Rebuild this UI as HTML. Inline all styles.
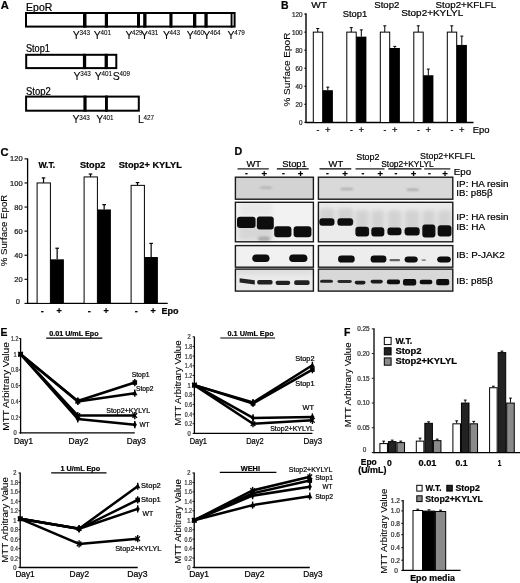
<!DOCTYPE html>
<html><head><meta charset="utf-8"><style>
html,body{margin:0;padding:0;background:#fff;}
svg{display:block;font-family:"Liberation Sans", sans-serif;filter:grayscale(1) blur(0.3px);}
text{stroke:#000;stroke-width:0.22px;paint-order:stroke;}
</style></head><body>
<svg width="520" height="583" viewBox="0 0 520 583">
<defs>
<filter id="bl0" x="-30%" y="-80%" width="160%" height="260%"><feGaussianBlur stdDeviation="0.6"/></filter>
<filter id="bl1" x="-30%" y="-80%" width="160%" height="260%"><feGaussianBlur stdDeviation="0.9"/></filter>
<filter id="bl2" x="-30%" y="-80%" width="160%" height="260%"><feGaussianBlur stdDeviation="2"/></filter>
</defs>
<rect width="520" height="583" fill="#fff"/>
<text x="0.80" y="9.40" font-size="11.2" font-weight="bold" >A</text>
<text x="26.10" y="10.60" font-size="10.3" textLength="26.20" lengthAdjust="spacingAndGlyphs" >EpoR</text>
<rect x="26.00" y="13.00" width="208.60" height="13.60" fill="#fff" stroke="#000" stroke-width="2" />
<rect x="83.00" y="12.00" width="3.50" height="15.60" fill="#000" />
<rect x="104.80" y="12.00" width="3.20" height="15.60" fill="#000" />
<rect x="137.00" y="12.00" width="3.00" height="15.60" fill="#000" />
<rect x="143.20" y="12.00" width="3.30" height="15.60" fill="#000" />
<rect x="169.40" y="12.00" width="3.10" height="15.60" fill="#000" />
<rect x="193.00" y="12.00" width="3.30" height="15.60" fill="#000" />
<rect x="204.40" y="12.00" width="3.30" height="15.60" fill="#000" />
<rect x="230.60" y="12.00" width="1.90" height="15.60" fill="#000" />
<text x="72.70" y="38.50" font-size="10.5" style="stroke-width:0.1px">Y</text>
<text x="79.40" y="34.60" font-size="6.3" style="stroke-width:0.08px">343</text>
<text x="93.80" y="38.50" font-size="10.5" style="stroke-width:0.1px">Y</text>
<text x="100.50" y="34.60" font-size="6.3" style="stroke-width:0.08px">401</text>
<text x="125.40" y="38.50" font-size="10.5" style="stroke-width:0.1px">Y</text>
<text x="132.10" y="34.60" font-size="6.3" style="stroke-width:0.08px">429</text>
<text x="141.00" y="38.50" font-size="10.5" style="stroke-width:0.1px">Y</text>
<text x="147.70" y="34.60" font-size="6.3" style="stroke-width:0.08px">431</text>
<text x="162.90" y="38.50" font-size="10.5" style="stroke-width:0.1px">Y</text>
<text x="169.60" y="34.60" font-size="6.3" style="stroke-width:0.08px">443</text>
<text x="186.80" y="38.50" font-size="10.5" style="stroke-width:0.1px">Y</text>
<text x="193.50" y="34.60" font-size="6.3" style="stroke-width:0.08px">460</text>
<text x="203.30" y="38.50" font-size="10.5" style="stroke-width:0.1px">Y</text>
<text x="210.00" y="34.60" font-size="6.3" style="stroke-width:0.08px">464</text>
<text x="227.50" y="38.50" font-size="10.5" style="stroke-width:0.1px">Y</text>
<text x="234.20" y="34.60" font-size="6.3" style="stroke-width:0.08px">479</text>
<text x="25.90" y="51.90" font-size="10.3" textLength="24.00" lengthAdjust="spacingAndGlyphs" >Stop1</text>
<rect x="26.20" y="54.80" width="90.10" height="13.30" fill="#fff" stroke="#000" stroke-width="2" />
<rect x="82.90" y="53.80" width="3.30" height="15.30" fill="#000" />
<rect x="104.60" y="53.80" width="3.30" height="15.30" fill="#000" />
<text x="73.50" y="80.30" font-size="10.5" style="stroke-width:0.1px">Y</text>
<text x="80.20" y="76.40" font-size="6.3" style="stroke-width:0.08px">343</text>
<text x="94.80" y="80.30" font-size="10.5" style="stroke-width:0.1px">Y</text>
<text x="101.50" y="76.40" font-size="6.3" style="stroke-width:0.08px">401</text>
<text x="112.70" y="80.30" font-size="10.5" style="stroke-width:0.1px">S</text>
<text x="119.40" y="76.40" font-size="6.3" style="stroke-width:0.08px">409</text>
<text x="26.00" y="94.60" font-size="10.3" textLength="24.80" lengthAdjust="spacingAndGlyphs" >Stop2</text>
<rect x="26.10" y="96.60" width="112.70" height="14.10" fill="#fff" stroke="#000" stroke-width="2" />
<rect x="83.40" y="95.60" width="3.20" height="16.10" fill="#000" />
<rect x="105.00" y="95.60" width="2.90" height="16.10" fill="#000" />
<text x="72.50" y="123.40" font-size="10.5" style="stroke-width:0.1px">Y</text>
<text x="79.20" y="119.50" font-size="6.3" style="stroke-width:0.08px">343</text>
<text x="96.30" y="123.40" font-size="10.5" style="stroke-width:0.1px">Y</text>
<text x="103.00" y="119.50" font-size="6.3" style="stroke-width:0.08px">401</text>
<text x="137.90" y="123.40" font-size="10.5" style="stroke-width:0.1px">L</text>
<text x="143.45" y="119.50" font-size="6.3" style="stroke-width:0.08px">427</text>
<text x="281.10" y="8.60" font-size="11.4" font-weight="bold" textLength="7.60" lengthAdjust="spacingAndGlyphs" >B</text>
<line x1="306.00" y1="13.30" x2="306.00" y2="123.00" stroke="#000" stroke-width="1.4" />
<line x1="305.40" y1="122.50" x2="473.50" y2="122.50" stroke="#000" stroke-width="1.3" />
<line x1="304.30" y1="122.30" x2="306.00" y2="122.30" stroke="#000" stroke-width="1" />
<text x="302.60" y="125.10" font-size="6.3" text-anchor="end" fill="#333" stroke="#333" >0</text>
<line x1="304.30" y1="104.27" x2="306.00" y2="104.27" stroke="#000" stroke-width="1" />
<text x="302.60" y="107.07" font-size="6.3" text-anchor="end" fill="#333" stroke="#333" >20</text>
<line x1="304.30" y1="86.23" x2="306.00" y2="86.23" stroke="#000" stroke-width="1" />
<text x="302.60" y="89.03" font-size="6.3" text-anchor="end" fill="#333" stroke="#333" >40</text>
<line x1="304.30" y1="68.20" x2="306.00" y2="68.20" stroke="#000" stroke-width="1" />
<text x="302.60" y="71.00" font-size="6.3" text-anchor="end" fill="#333" stroke="#333" >60</text>
<line x1="304.30" y1="50.16" x2="306.00" y2="50.16" stroke="#000" stroke-width="1" />
<text x="302.60" y="52.96" font-size="6.3" text-anchor="end" fill="#333" stroke="#333" >80</text>
<line x1="304.30" y1="32.13" x2="306.00" y2="32.13" stroke="#000" stroke-width="1" />
<text x="302.60" y="34.93" font-size="6.3" text-anchor="end" fill="#333" stroke="#333" >100</text>
<line x1="304.30" y1="14.10" x2="306.00" y2="14.10" stroke="#000" stroke-width="1" />
<text x="302.60" y="16.90" font-size="6.3" text-anchor="end" fill="#333" stroke="#333" >120</text>
<text x="290.20" y="69.60" font-size="9.4" text-anchor="middle" textLength="74.00" lengthAdjust="spacingAndGlyphs" transform="rotate(-90 290.20 69.60)" style="stroke-width:0.1px">% Surface EpoR</text>
<line x1="317.75" y1="32.13" x2="317.75" y2="28.52" stroke="#000" stroke-width="1" />
<line x1="316.25" y1="28.52" x2="319.25" y2="28.52" stroke="#000" stroke-width="1" />
<line x1="327.80" y1="90.20" x2="327.80" y2="87.13" stroke="#000" stroke-width="1" />
<line x1="326.30" y1="87.13" x2="329.30" y2="87.13" stroke="#000" stroke-width="1" />
<rect x="313.30" y="32.13" width="9.40" height="90.37" fill="#fff" stroke="#000" stroke-width="1" />
<rect x="322.70" y="90.20" width="10.20" height="32.30" fill="#000" />
<text x="318.00" y="132.50" font-size="8.5" text-anchor="middle" >-</text>
<text x="327.80" y="133.30" font-size="9.5" text-anchor="middle" >+</text>
<line x1="351.25" y1="32.13" x2="351.25" y2="27.62" stroke="#000" stroke-width="1" />
<line x1="349.75" y1="27.62" x2="352.75" y2="27.62" stroke="#000" stroke-width="1" />
<line x1="361.30" y1="36.64" x2="361.30" y2="29.88" stroke="#000" stroke-width="1" />
<line x1="359.80" y1="29.88" x2="362.80" y2="29.88" stroke="#000" stroke-width="1" />
<rect x="346.80" y="32.13" width="9.40" height="90.37" fill="#fff" stroke="#000" stroke-width="1" />
<rect x="356.20" y="36.64" width="10.20" height="85.86" fill="#000" />
<text x="351.50" y="132.50" font-size="8.5" text-anchor="middle" >-</text>
<text x="361.30" y="133.30" font-size="9.5" text-anchor="middle" >+</text>
<line x1="384.75" y1="32.13" x2="384.75" y2="25.82" stroke="#000" stroke-width="1" />
<line x1="383.25" y1="25.82" x2="386.25" y2="25.82" stroke="#000" stroke-width="1" />
<line x1="394.80" y1="48.00" x2="394.80" y2="46.38" stroke="#000" stroke-width="1" />
<line x1="393.30" y1="46.38" x2="396.30" y2="46.38" stroke="#000" stroke-width="1" />
<rect x="380.30" y="32.13" width="9.40" height="90.37" fill="#fff" stroke="#000" stroke-width="1" />
<rect x="389.70" y="48.00" width="10.20" height="74.50" fill="#000" />
<text x="385.00" y="132.50" font-size="8.5" text-anchor="middle" >-</text>
<text x="394.80" y="133.30" font-size="9.5" text-anchor="middle" >+</text>
<line x1="418.25" y1="32.13" x2="418.25" y2="25.82" stroke="#000" stroke-width="1" />
<line x1="416.75" y1="25.82" x2="419.75" y2="25.82" stroke="#000" stroke-width="1" />
<line x1="428.30" y1="75.23" x2="428.30" y2="69.10" stroke="#000" stroke-width="1" />
<line x1="426.80" y1="69.10" x2="429.80" y2="69.10" stroke="#000" stroke-width="1" />
<rect x="413.80" y="32.13" width="9.40" height="90.37" fill="#fff" stroke="#000" stroke-width="1" />
<rect x="423.20" y="75.23" width="10.20" height="47.27" fill="#000" />
<text x="418.50" y="132.50" font-size="8.5" text-anchor="middle" >-</text>
<text x="428.30" y="133.30" font-size="9.5" text-anchor="middle" >+</text>
<line x1="451.75" y1="32.13" x2="451.75" y2="25.82" stroke="#000" stroke-width="1" />
<line x1="450.25" y1="25.82" x2="453.25" y2="25.82" stroke="#000" stroke-width="1" />
<line x1="461.80" y1="44.93" x2="461.80" y2="36.10" stroke="#000" stroke-width="1" />
<line x1="460.30" y1="36.10" x2="463.30" y2="36.10" stroke="#000" stroke-width="1" />
<rect x="447.30" y="32.13" width="9.40" height="90.37" fill="#fff" stroke="#000" stroke-width="1" />
<rect x="456.70" y="44.93" width="10.20" height="77.57" fill="#000" />
<text x="452.00" y="132.50" font-size="8.5" text-anchor="middle" >-</text>
<text x="461.80" y="133.30" font-size="9.5" text-anchor="middle" >+</text>
<text x="472.80" y="133.00" font-size="9.6" textLength="16.80" lengthAdjust="spacingAndGlyphs" >Epo</text>
<text x="311.20" y="7.70" font-size="9.5" textLength="15.70" lengthAdjust="spacingAndGlyphs" >WT</text>
<text x="342.70" y="16.60" font-size="9.5" textLength="24.50" lengthAdjust="spacingAndGlyphs" >Stop1</text>
<text x="374.30" y="8.00" font-size="9.5" textLength="25.00" lengthAdjust="spacingAndGlyphs" >Stop2</text>
<text x="401.20" y="15.50" font-size="9.5" textLength="62.00" lengthAdjust="spacingAndGlyphs" >Stop2+KYLYL</text>
<text x="435.60" y="7.80" font-size="9.5" textLength="60.50" lengthAdjust="spacingAndGlyphs" >Stop2+KFLFL</text>
<text x="0.50" y="155.50" font-size="11.2" font-weight="bold" >C</text>
<line x1="27.60" y1="158.40" x2="27.60" y2="304.00" stroke="#000" stroke-width="1.3" />
<line x1="27.00" y1="303.40" x2="167.70" y2="303.40" stroke="#000" stroke-width="1.3" />
<line x1="24.50" y1="303.40" x2="27.60" y2="303.40" stroke="#000" stroke-width="1.1" />
<text x="20.00" y="303.70" font-size="7.5" text-anchor="end" fill="#222" stroke="#222" >0</text>
<line x1="24.50" y1="279.31" x2="27.60" y2="279.31" stroke="#000" stroke-width="1.1" />
<text x="22.60" y="281.91" font-size="7.5" text-anchor="end" fill="#222" stroke="#222" >20</text>
<line x1="24.50" y1="255.22" x2="27.60" y2="255.22" stroke="#000" stroke-width="1.1" />
<text x="22.60" y="257.82" font-size="7.5" text-anchor="end" fill="#222" stroke="#222" >40</text>
<line x1="24.50" y1="231.13" x2="27.60" y2="231.13" stroke="#000" stroke-width="1.1" />
<text x="22.60" y="233.73" font-size="7.5" text-anchor="end" fill="#222" stroke="#222" >60</text>
<line x1="24.50" y1="207.04" x2="27.60" y2="207.04" stroke="#000" stroke-width="1.1" />
<text x="22.60" y="209.64" font-size="7.5" text-anchor="end" fill="#222" stroke="#222" >80</text>
<line x1="24.50" y1="182.95" x2="27.60" y2="182.95" stroke="#000" stroke-width="1.1" />
<text x="22.60" y="185.55" font-size="7.5" text-anchor="end" fill="#222" stroke="#222" >100</text>
<line x1="24.50" y1="158.86" x2="27.60" y2="158.86" stroke="#000" stroke-width="1.1" />
<text x="22.60" y="161.46" font-size="7.5" text-anchor="end" fill="#222" stroke="#222" >120</text>
<text x="7.40" y="230.50" font-size="9.9" text-anchor="middle" textLength="71.50" lengthAdjust="spacingAndGlyphs" transform="rotate(-90 7.40 230.50)" style="stroke-width:0.1px">% Surface EpoR</text>
<line x1="43.50" y1="182.95" x2="43.50" y2="177.89" stroke="#000" stroke-width="1.2" />
<line x1="41.70" y1="177.89" x2="45.30" y2="177.89" stroke="#000" stroke-width="1.2" />
<line x1="57.15" y1="259.32" x2="57.15" y2="248.23" stroke="#000" stroke-width="1.2" />
<line x1="55.35" y1="248.23" x2="58.95" y2="248.23" stroke="#000" stroke-width="1.2" />
<rect x="37.10" y="182.95" width="13.30" height="120.45" fill="#fff" stroke="#000" stroke-width="1" />
<rect x="50.40" y="259.32" width="13.50" height="44.08" fill="#000" />
<text x="42.30" y="313.50" font-size="9" text-anchor="middle" font-weight="bold" >-</text>
<text x="59.10" y="314.30" font-size="9" text-anchor="middle" font-weight="bold" >+</text>
<line x1="90.50" y1="176.93" x2="90.50" y2="174.04" stroke="#000" stroke-width="1.2" />
<line x1="88.70" y1="174.04" x2="92.30" y2="174.04" stroke="#000" stroke-width="1.2" />
<line x1="104.15" y1="209.45" x2="104.15" y2="204.63" stroke="#000" stroke-width="1.2" />
<line x1="102.35" y1="204.63" x2="105.95" y2="204.63" stroke="#000" stroke-width="1.2" />
<rect x="84.10" y="176.93" width="13.30" height="126.47" fill="#fff" stroke="#000" stroke-width="1" />
<rect x="97.40" y="209.45" width="13.50" height="93.95" fill="#000" />
<text x="89.30" y="313.50" font-size="9" text-anchor="middle" font-weight="bold" >-</text>
<text x="106.10" y="314.30" font-size="9" text-anchor="middle" font-weight="bold" >+</text>
<line x1="137.50" y1="185.36" x2="137.50" y2="182.59" stroke="#000" stroke-width="1.2" />
<line x1="135.70" y1="182.59" x2="139.30" y2="182.59" stroke="#000" stroke-width="1.2" />
<line x1="151.15" y1="257.03" x2="151.15" y2="243.42" stroke="#000" stroke-width="1.2" />
<line x1="149.35" y1="243.42" x2="152.95" y2="243.42" stroke="#000" stroke-width="1.2" />
<rect x="131.10" y="185.36" width="13.30" height="118.04" fill="#fff" stroke="#000" stroke-width="1" />
<rect x="144.40" y="257.03" width="13.50" height="46.37" fill="#000" />
<text x="136.30" y="313.50" font-size="9" text-anchor="middle" font-weight="bold" >-</text>
<text x="153.10" y="314.30" font-size="9" text-anchor="middle" font-weight="bold" >+</text>
<text x="161.50" y="313.50" font-size="9" font-weight="bold" >Epo</text>
<text x="38.40" y="168.00" font-size="8.6" font-weight="bold" textLength="16.80" lengthAdjust="spacingAndGlyphs" >W.T.</text>
<text x="79.90" y="168.00" font-size="8.6" font-weight="bold" textLength="25.50" lengthAdjust="spacingAndGlyphs" >Stop2</text>
<text x="118.70" y="168.00" font-size="8.6" font-weight="bold" textLength="63.20" lengthAdjust="spacingAndGlyphs" >Stop2+ KYLYL</text>
<text x="234.50" y="155.40" font-size="10.7" font-weight="bold" >D</text>
<text x="246.50" y="166.90" font-size="9.4" >WT</text>
<line x1="237.50" y1="168.90" x2="268.80" y2="168.90" stroke="#000" stroke-width="1.1" />
<text x="282.30" y="166.90" font-size="9.4" >Stop1</text>
<line x1="276.90" y1="168.90" x2="308.70" y2="168.90" stroke="#000" stroke-width="1.1" />
<text x="328.60" y="166.90" font-size="9.4" >WT</text>
<line x1="319.50" y1="168.90" x2="351.30" y2="168.90" stroke="#000" stroke-width="1.1" />
<text x="356.20" y="159.60" font-size="9.4" textLength="23.30" lengthAdjust="spacingAndGlyphs" >Stop2</text>
<line x1="355.50" y1="168.90" x2="384.50" y2="168.90" stroke="#000" stroke-width="1.1" />
<text x="381.20" y="167.10" font-size="9.4" textLength="52.60" lengthAdjust="spacingAndGlyphs" >Stop2+KYLYL</text>
<line x1="388.30" y1="168.90" x2="421.50" y2="168.90" stroke="#000" stroke-width="1.1" />
<text x="420.10" y="159.20" font-size="9.4" textLength="55.00" lengthAdjust="spacingAndGlyphs" >Stop2+KFLFL</text>
<line x1="424.20" y1="168.90" x2="450.30" y2="168.90" stroke="#000" stroke-width="1.1" />
<text x="246.50" y="176.20" font-size="8.5" text-anchor="middle" font-weight="bold" >-</text>
<text x="264.40" y="177.00" font-size="9.5" text-anchor="middle" font-weight="bold" >+</text>
<text x="283.30" y="176.20" font-size="8.5" text-anchor="middle" font-weight="bold" >-</text>
<text x="300.60" y="177.00" font-size="9.5" text-anchor="middle" font-weight="bold" >+</text>
<text x="327.30" y="176.20" font-size="8.5" text-anchor="middle" font-weight="bold" >-</text>
<text x="345.00" y="177.00" font-size="9.5" text-anchor="middle" font-weight="bold" >+</text>
<text x="362.80" y="176.20" font-size="8.5" text-anchor="middle" font-weight="bold" >-</text>
<text x="380.30" y="177.00" font-size="9.5" text-anchor="middle" font-weight="bold" >+</text>
<text x="396.00" y="176.20" font-size="8.5" text-anchor="middle" font-weight="bold" >-</text>
<text x="413.60" y="177.00" font-size="9.5" text-anchor="middle" font-weight="bold" >+</text>
<text x="429.50" y="176.20" font-size="8.5" text-anchor="middle" font-weight="bold" >-</text>
<text x="445.00" y="177.00" font-size="9.5" text-anchor="middle" font-weight="bold" >+</text>
<text x="453.80" y="174.80" font-size="9.6" textLength="17.30" lengthAdjust="spacingAndGlyphs" >Epo</text>
<rect x="235.40" y="177.20" width="78.00" height="22.00" fill="#d3d3d3"/>
<rect x="235.40" y="202.30" width="78.00" height="39.50" fill="#f2f2f2"/>
<rect x="235.40" y="245.60" width="78.00" height="21.60" fill="#f1f1f1"/>
<rect x="235.40" y="269.10" width="78.00" height="22.00" fill="#eaeaea"/>
<rect x="318.40" y="177.20" width="134.40" height="22.00" fill="#d9d9d9"/>
<rect x="318.40" y="202.30" width="134.40" height="39.50" fill="#ebebeb"/>
<rect x="318.40" y="245.60" width="134.40" height="21.60" fill="#ededed"/>
<rect x="318.40" y="269.10" width="134.40" height="22.00" fill="#d8d8d8"/>
<rect x="260.00" y="186.80" width="12.00" height="1.80" rx="3" fill="#888" filter="url(#bl1)" opacity="0.6"/>
<rect x="238.00" y="226.00" width="35.00" height="15.00" rx="3" fill="#d0d0d0" filter="url(#bl2)" opacity="0.8"/>
<rect x="258.00" y="236.50" width="12.00" height="4.50" rx="3" fill="#999" filter="url(#bl1)" opacity="0.7"/>
<rect x="240.00" y="203.00" width="32.00" height="13.00" rx="3" fill="#e2e2e2" filter="url(#bl2)" opacity="0.6"/>
<rect x="237.00" y="216.70" width="18.60" height="11.40" rx="3" fill="#0e0e0e" filter="url(#bl0)" opacity="1"/>
<rect x="256.80" y="216.50" width="17.00" height="13.10" rx="3" fill="#0e0e0e" filter="url(#bl0)" opacity="1"/>
<rect x="274.20" y="226.20" width="17.20" height="11.00" rx="3" fill="#0e0e0e" filter="url(#bl0)" opacity="1"/>
<rect x="293.60" y="226.20" width="17.80" height="11.00" rx="3" fill="#0e0e0e" filter="url(#bl0)" opacity="1"/>
<rect x="252.30" y="254.40" width="17.20" height="7.60" rx="3.8" fill="#080808" filter="url(#bl0)" opacity="1"/>
<rect x="289.20" y="254.40" width="18.20" height="7.60" rx="3.8" fill="#080808" filter="url(#bl0)" opacity="1"/>
<rect x="236.00" y="269.50" width="77.00" height="4.00" rx="3" fill="#d0d0d0" filter="url(#bl2)" opacity="0.7"/>
<path d="M239.6 278.2 L254.8 280.2 L254.8 284.6 L239.6 282.6 Z" fill="#222" filter="url(#bl0)"/>
<rect x="257.20" y="280.00" width="15.40" height="4.60" rx="1.8" fill="#242424" filter="url(#bl0)" opacity="1"/>
<rect x="275.60" y="280.80" width="14.60" height="4.10" rx="1.8" fill="#242424" filter="url(#bl0)" opacity="1"/>
<rect x="294.20" y="280.30" width="15.40" height="4.70" rx="1.8" fill="#242424" filter="url(#bl0)" opacity="1"/>
<rect x="340.00" y="188.10" width="13.50" height="1.80" rx="3" fill="#888" filter="url(#bl1)" opacity="0.6"/>
<rect x="406.50" y="188.70" width="12.50" height="1.90" rx="3" fill="#777" filter="url(#bl1)" opacity="0.6"/>
<rect x="319.30" y="208.00" width="15.20" height="14.00" rx="3" fill="#c8c8c8" filter="url(#bl2)" opacity="0.7"/>
<rect x="319.30" y="218.20" width="15.20" height="7.60" rx="3" fill="#0e0e0e" filter="url(#bl0)" opacity="1"/>
<rect x="337.40" y="208.00" width="15.80" height="14.00" rx="3" fill="#c8c8c8" filter="url(#bl2)" opacity="0.7"/>
<rect x="337.40" y="218.20" width="15.80" height="7.60" rx="3" fill="#0e0e0e" filter="url(#bl0)" opacity="1"/>
<rect x="355.40" y="210.00" width="13.70" height="23.60" rx="3" fill="#cacaca" filter="url(#bl2)" opacity="0.75"/>
<rect x="355.40" y="226.80" width="13.70" height="9.80" rx="3" fill="#0e0e0e" filter="url(#bl0)" opacity="1"/>
<rect x="371.30" y="210.00" width="13.00" height="23.40" rx="3" fill="#cacaca" filter="url(#bl2)" opacity="0.75"/>
<rect x="371.30" y="227.30" width="13.00" height="9.10" rx="3" fill="#0e0e0e" filter="url(#bl0)" opacity="1"/>
<rect x="387.40" y="210.00" width="14.10" height="22.20" rx="3" fill="#cacaca" filter="url(#bl2)" opacity="0.75"/>
<rect x="387.40" y="227.40" width="14.10" height="7.80" rx="3" fill="#0e0e0e" filter="url(#bl0)" opacity="1"/>
<rect x="404.60" y="210.00" width="15.10" height="22.40" rx="3" fill="#cacaca" filter="url(#bl2)" opacity="0.75"/>
<rect x="404.60" y="227.20" width="15.10" height="8.20" rx="3" fill="#0e0e0e" filter="url(#bl0)" opacity="1"/>
<rect x="422.30" y="210.00" width="13.10" height="24.60" rx="3" fill="#cacaca" filter="url(#bl2)" opacity="0.75"/>
<rect x="422.30" y="224.60" width="13.10" height="13.00" rx="3" fill="#0e0e0e" filter="url(#bl0)" opacity="1"/>
<rect x="437.70" y="210.00" width="13.80" height="23.40" rx="3" fill="#cacaca" filter="url(#bl2)" opacity="0.75"/>
<rect x="437.70" y="225.20" width="13.80" height="11.20" rx="3" fill="#0e0e0e" filter="url(#bl0)" opacity="1"/>
<rect x="338.10" y="255.60" width="16.60" height="7.00" rx="3.4" fill="#080808" filter="url(#bl0)" opacity="1"/>
<rect x="370.60" y="255.60" width="15.80" height="7.00" rx="3.4" fill="#080808" filter="url(#bl0)" opacity="1"/>
<rect x="389.50" y="259.00" width="10.50" height="2.20" rx="1" fill="#666" filter="url(#bl0)" opacity="1"/>
<rect x="404.60" y="256.40" width="13.10" height="6.00" rx="3.4" fill="#080808" filter="url(#bl0)" opacity="1"/>
<rect x="421.50" y="259.20" width="4.50" height="1.80" rx="1" fill="#888" filter="url(#bl0)" opacity="1"/>
<rect x="437.20" y="256.40" width="13.60" height="6.00" rx="3.4" fill="#080808" filter="url(#bl0)" opacity="1"/>
<rect x="320.00" y="279.80" width="13.00" height="3.00" rx="2" fill="#222" filter="url(#bl0)" opacity="1"/>
<rect x="337.40" y="280.10" width="14.40" height="2.80" rx="2" fill="#2a2a2a" filter="url(#bl0)" opacity="1"/>
<rect x="354.70" y="280.80" width="10.80" height="3.60" rx="2" fill="#1a1a1a" filter="url(#bl0)" opacity="1"/>
<rect x="370.60" y="279.80" width="12.20" height="3.60" rx="2" fill="#1a1a1a" filter="url(#bl0)" opacity="1"/>
<rect x="386.90" y="279.60" width="13.10" height="4.60" rx="2" fill="#111" filter="url(#bl0)" opacity="1"/>
<rect x="403.00" y="279.00" width="13.20" height="6.40" rx="2" fill="#0a0a0a" filter="url(#bl0)" opacity="1"/>
<rect x="419.70" y="279.70" width="12.60" height="4.50" rx="2" fill="#111" filter="url(#bl0)" opacity="1"/>
<rect x="436.20" y="279.00" width="13.00" height="6.20" rx="2" fill="#0a0a0a" filter="url(#bl0)" opacity="1"/>
<rect x="235.40" y="177.20" width="78.00" height="22.00" fill="none" stroke="#1a1a1a" stroke-width="1.4"/>
<rect x="235.40" y="202.30" width="78.00" height="39.50" fill="none" stroke="#1a1a1a" stroke-width="1.4"/>
<rect x="235.40" y="245.60" width="78.00" height="21.60" fill="none" stroke="#1a1a1a" stroke-width="1.4"/>
<rect x="235.40" y="269.10" width="78.00" height="22.00" fill="none" stroke="#1a1a1a" stroke-width="1.4"/>
<rect x="318.40" y="177.20" width="134.40" height="22.00" fill="none" stroke="#1a1a1a" stroke-width="1.4"/>
<rect x="318.40" y="202.30" width="134.40" height="39.50" fill="none" stroke="#1a1a1a" stroke-width="1.4"/>
<rect x="318.40" y="245.60" width="134.40" height="21.60" fill="none" stroke="#1a1a1a" stroke-width="1.4"/>
<rect x="318.40" y="269.10" width="134.40" height="22.00" fill="none" stroke="#1a1a1a" stroke-width="1.4"/>
<text x="456.30" y="187.20" font-size="9.5" textLength="52.20" lengthAdjust="spacingAndGlyphs" >IP: HA resin</text>
<text x="456.30" y="196.20" font-size="9.5" textLength="36.20" lengthAdjust="spacingAndGlyphs" >IB: p85&#946;</text>
<text x="456.30" y="219.60" font-size="9.5" textLength="52.20" lengthAdjust="spacingAndGlyphs" >IP: HA resin</text>
<text x="456.30" y="229.80" font-size="9.5" textLength="29.00" lengthAdjust="spacingAndGlyphs" >IB: HA</text>
<text x="456.30" y="258.10" font-size="9.5" textLength="48.40" lengthAdjust="spacingAndGlyphs" >IB: P-JAK2</text>
<text x="456.30" y="283.70" font-size="9.5" textLength="36.60" lengthAdjust="spacingAndGlyphs" >IB: p85&#946;</text>
<text x="0.40" y="336.20" font-size="10.4" font-weight="bold" >E</text>
<line x1="20.60" y1="338.20" x2="20.60" y2="433.50" stroke="#000" stroke-width="1.3" />
<line x1="20.00" y1="432.90" x2="134.80" y2="432.90" stroke="#000" stroke-width="1.3" />
<line x1="18.80" y1="432.90" x2="20.60" y2="432.90" stroke="#000" stroke-width="0.9" />
<text x="16.80" y="435.35" font-size="6.8" text-anchor="end" fill="#444" stroke="#444" textLength="3.20" lengthAdjust="spacingAndGlyphs" >0</text>
<line x1="18.80" y1="417.16" x2="20.60" y2="417.16" stroke="#000" stroke-width="0.9" />
<text x="18.30" y="419.61" font-size="6.8" text-anchor="end" fill="#444" stroke="#444" textLength="7.30" lengthAdjust="spacingAndGlyphs" >0.2</text>
<line x1="18.80" y1="401.42" x2="20.60" y2="401.42" stroke="#000" stroke-width="0.9" />
<text x="18.30" y="403.87" font-size="6.8" text-anchor="end" fill="#444" stroke="#444" textLength="7.30" lengthAdjust="spacingAndGlyphs" >0.4</text>
<line x1="18.80" y1="385.68" x2="20.60" y2="385.68" stroke="#000" stroke-width="0.9" />
<text x="18.30" y="388.13" font-size="6.8" text-anchor="end" fill="#444" stroke="#444" textLength="7.30" lengthAdjust="spacingAndGlyphs" >0.6</text>
<line x1="18.80" y1="369.94" x2="20.60" y2="369.94" stroke="#000" stroke-width="0.9" />
<text x="18.30" y="372.39" font-size="6.8" text-anchor="end" fill="#444" stroke="#444" textLength="7.30" lengthAdjust="spacingAndGlyphs" >0.8</text>
<line x1="18.80" y1="354.20" x2="20.60" y2="354.20" stroke="#000" stroke-width="0.9" />
<text x="16.80" y="356.65" font-size="6.8" text-anchor="end" fill="#444" stroke="#444" textLength="3.20" lengthAdjust="spacingAndGlyphs" >1</text>
<line x1="18.80" y1="338.46" x2="20.60" y2="338.46" stroke="#000" stroke-width="0.9" />
<text x="18.30" y="340.91" font-size="6.8" text-anchor="end" fill="#444" stroke="#444" textLength="7.30" lengthAdjust="spacingAndGlyphs" >1.2</text>
<polyline points="20.60,354.20 77.80,401.03 134.80,382.53" fill="none" stroke="#000" stroke-width="2.5" stroke-linejoin="round"/>
<rect x="18.30" y="351.90" width="4.60" height="4.60" fill="#000" />
<line x1="77.80" y1="397.43" x2="77.80" y2="404.63" stroke="#000" stroke-width="1.4" />
<rect x="75.50" y="398.73" width="4.60" height="4.60" fill="#000" />
<line x1="134.80" y1="378.93" x2="134.80" y2="386.13" stroke="#000" stroke-width="1.4" />
<rect x="132.50" y="380.23" width="4.60" height="4.60" fill="#000" />
<polyline points="20.60,354.20 77.80,401.42 134.80,393.16" fill="none" stroke="#000" stroke-width="2.5" stroke-linejoin="round"/>
<path d="M20.60 351.30 L23.30 356.30 L17.90 356.30 Z" fill="#000"/>
<line x1="77.80" y1="397.82" x2="77.80" y2="405.02" stroke="#000" stroke-width="1.4" />
<path d="M77.80 398.52 L80.50 403.52 L75.10 403.52 Z" fill="#000"/>
<line x1="134.80" y1="389.56" x2="134.80" y2="396.76" stroke="#000" stroke-width="1.4" />
<path d="M134.80 390.26 L137.50 395.26 L132.10 395.26 Z" fill="#000"/>
<polyline points="20.60,354.20 77.80,415.59 134.80,415.59" fill="none" stroke="#000" stroke-width="2.5" stroke-linejoin="round"/>
<path d="M18.30 351.90 L22.90 356.50 M22.90 351.90 L18.30 356.50" stroke="#000" stroke-width="1.3"/>
<line x1="77.80" y1="411.99" x2="77.80" y2="419.19" stroke="#000" stroke-width="1.4" />
<path d="M75.50 413.29 L80.10 417.89 M80.10 413.29 L75.50 417.89" stroke="#000" stroke-width="1.3"/>
<line x1="134.80" y1="411.99" x2="134.80" y2="419.19" stroke="#000" stroke-width="1.4" />
<path d="M132.50 413.29 L137.10 417.89 M137.10 413.29 L132.50 417.89" stroke="#000" stroke-width="1.3"/>
<polyline points="20.60,354.20 77.80,418.89 134.80,424.64" fill="none" stroke="#000" stroke-width="2.5" stroke-linejoin="round"/>
<path d="M20.60 351.10 L22.70 354.20 L20.60 357.30 L18.50 354.20 Z" fill="#000"/>
<line x1="77.80" y1="415.29" x2="77.80" y2="422.49" stroke="#000" stroke-width="1.4" />
<path d="M77.80 415.79 L79.90 418.89 L77.80 421.99 L75.70 418.89 Z" fill="#000"/>
<line x1="134.80" y1="421.04" x2="134.80" y2="428.24" stroke="#000" stroke-width="1.4" />
<path d="M134.80 421.54 L136.90 424.64 L134.80 427.74 L132.70 424.64 Z" fill="#000"/>
<text x="49.20" y="336.00" font-size="7.5" font-weight="bold" textLength="49.40" lengthAdjust="spacingAndGlyphs" >0.01 U/mL Epo</text>
<line x1="46.20" y1="338.10" x2="102.30" y2="338.10" stroke="#000" stroke-width="1.2" />
<text x="131.70" y="376.50" font-size="7.2" textLength="17.80" lengthAdjust="spacingAndGlyphs" >Stop1</text>
<text x="136.00" y="391.20" font-size="7.2" textLength="17.60" lengthAdjust="spacingAndGlyphs" >Stop2</text>
<text x="106.20" y="412.80" font-size="7.2" textLength="44.00" lengthAdjust="spacingAndGlyphs" >Stop2+KYLYL</text>
<text x="139.40" y="426.70" font-size="7.2" textLength="10.10" lengthAdjust="spacingAndGlyphs" >WT</text>
<text x="14.00" y="444.20" font-size="8.6" textLength="18.90" lengthAdjust="spacingAndGlyphs" >Day1</text>
<text x="68.60" y="444.20" font-size="8.6" textLength="19.80" lengthAdjust="spacingAndGlyphs" >Day2</text>
<text x="126.80" y="444.20" font-size="8.6" textLength="19.10" lengthAdjust="spacingAndGlyphs" >Day3</text>
<text x="8.50" y="386.50" font-size="9.5" text-anchor="middle" transform="rotate(-90 8.50 386.50)" textLength="88.5" lengthAdjust="spacingAndGlyphs" style="stroke-width:0.1px">MTT Arbitrary Value</text>
<line x1="194.40" y1="336.60" x2="194.40" y2="434.00" stroke="#000" stroke-width="1.3" />
<line x1="193.80" y1="433.40" x2="312.40" y2="433.40" stroke="#000" stroke-width="1.3" />
<line x1="192.60" y1="433.40" x2="194.40" y2="433.40" stroke="#000" stroke-width="0.9" />
<text x="190.60" y="435.85" font-size="6.8" text-anchor="end" fill="#444" stroke="#444" textLength="3.20" lengthAdjust="spacingAndGlyphs" >0</text>
<line x1="192.60" y1="423.74" x2="194.40" y2="423.74" stroke="#000" stroke-width="0.9" />
<text x="192.10" y="426.19" font-size="6.8" text-anchor="end" fill="#444" stroke="#444" textLength="7.30" lengthAdjust="spacingAndGlyphs" >0.2</text>
<line x1="192.60" y1="414.08" x2="194.40" y2="414.08" stroke="#000" stroke-width="0.9" />
<text x="192.10" y="416.53" font-size="6.8" text-anchor="end" fill="#444" stroke="#444" textLength="7.30" lengthAdjust="spacingAndGlyphs" >0.4</text>
<line x1="192.60" y1="404.42" x2="194.40" y2="404.42" stroke="#000" stroke-width="0.9" />
<text x="192.10" y="406.87" font-size="6.8" text-anchor="end" fill="#444" stroke="#444" textLength="7.30" lengthAdjust="spacingAndGlyphs" >0.6</text>
<line x1="192.60" y1="394.76" x2="194.40" y2="394.76" stroke="#000" stroke-width="0.9" />
<text x="192.10" y="397.21" font-size="6.8" text-anchor="end" fill="#444" stroke="#444" textLength="7.30" lengthAdjust="spacingAndGlyphs" >0.8</text>
<line x1="192.60" y1="385.10" x2="194.40" y2="385.10" stroke="#000" stroke-width="0.9" />
<text x="190.60" y="387.55" font-size="6.8" text-anchor="end" fill="#444" stroke="#444" textLength="3.20" lengthAdjust="spacingAndGlyphs" >1</text>
<line x1="192.60" y1="375.44" x2="194.40" y2="375.44" stroke="#000" stroke-width="0.9" />
<text x="192.10" y="377.89" font-size="6.8" text-anchor="end" fill="#444" stroke="#444" textLength="7.30" lengthAdjust="spacingAndGlyphs" >1.2</text>
<line x1="192.60" y1="365.78" x2="194.40" y2="365.78" stroke="#000" stroke-width="0.9" />
<text x="192.10" y="368.23" font-size="6.8" text-anchor="end" fill="#444" stroke="#444" textLength="7.30" lengthAdjust="spacingAndGlyphs" >1.4</text>
<line x1="192.60" y1="356.12" x2="194.40" y2="356.12" stroke="#000" stroke-width="0.9" />
<text x="192.10" y="358.57" font-size="6.8" text-anchor="end" fill="#444" stroke="#444" textLength="7.30" lengthAdjust="spacingAndGlyphs" >1.6</text>
<line x1="192.60" y1="346.46" x2="194.40" y2="346.46" stroke="#000" stroke-width="0.9" />
<text x="192.10" y="348.91" font-size="6.8" text-anchor="end" fill="#444" stroke="#444" textLength="7.30" lengthAdjust="spacingAndGlyphs" >1.8</text>
<line x1="192.60" y1="336.80" x2="194.40" y2="336.80" stroke="#000" stroke-width="0.9" />
<text x="190.60" y="339.25" font-size="6.8" text-anchor="end" fill="#444" stroke="#444" textLength="3.20" lengthAdjust="spacingAndGlyphs" >2</text>
<polyline points="194.40,385.10 253.00,402.49 312.40,365.30" fill="none" stroke="#000" stroke-width="2.5" stroke-linejoin="round"/>
<path d="M194.40 382.20 L197.10 387.20 L191.70 387.20 Z" fill="#000"/>
<line x1="253.00" y1="398.89" x2="253.00" y2="406.09" stroke="#000" stroke-width="1.4" />
<path d="M253.00 399.59 L255.70 404.59 L250.30 404.59 Z" fill="#000"/>
<line x1="312.40" y1="361.70" x2="312.40" y2="368.90" stroke="#000" stroke-width="1.4" />
<path d="M312.40 362.40 L315.10 367.40 L309.70 367.40 Z" fill="#000"/>
<polyline points="194.40,385.10 253.00,403.45 312.40,369.64" fill="none" stroke="#000" stroke-width="2.5" stroke-linejoin="round"/>
<rect x="192.10" y="382.80" width="4.60" height="4.60" fill="#000" />
<line x1="253.00" y1="399.85" x2="253.00" y2="407.05" stroke="#000" stroke-width="1.4" />
<rect x="250.70" y="401.15" width="4.60" height="4.60" fill="#000" />
<line x1="312.40" y1="366.04" x2="312.40" y2="373.24" stroke="#000" stroke-width="1.4" />
<rect x="310.10" y="367.34" width="4.60" height="4.60" fill="#000" />
<polyline points="194.40,385.10 253.00,417.94 312.40,416.98" fill="none" stroke="#000" stroke-width="2.5" stroke-linejoin="round"/>
<path d="M194.40 382.00 L196.50 385.10 L194.40 388.20 L192.30 385.10 Z" fill="#000"/>
<line x1="253.00" y1="414.34" x2="253.00" y2="421.54" stroke="#000" stroke-width="1.4" />
<path d="M253.00 414.84 L255.10 417.94 L253.00 421.04 L250.90 417.94 Z" fill="#000"/>
<line x1="312.40" y1="413.38" x2="312.40" y2="420.58" stroke="#000" stroke-width="1.4" />
<path d="M312.40 413.88 L314.50 416.98 L312.40 420.08 L310.30 416.98 Z" fill="#000"/>
<polyline points="194.40,385.10 253.00,423.74 312.40,420.36" fill="none" stroke="#000" stroke-width="2.5" stroke-linejoin="round"/>
<path d="M192.10 382.80 L196.70 387.40 M196.70 382.80 L192.10 387.40" stroke="#000" stroke-width="1.3"/>
<line x1="253.00" y1="420.14" x2="253.00" y2="427.34" stroke="#000" stroke-width="1.4" />
<path d="M250.70 421.44 L255.30 426.04 M255.30 421.44 L250.70 426.04" stroke="#000" stroke-width="1.3"/>
<line x1="312.40" y1="416.76" x2="312.40" y2="423.96" stroke="#000" stroke-width="1.4" />
<path d="M310.10 418.06 L314.70 422.66 M314.70 418.06 L310.10 422.66" stroke="#000" stroke-width="1.3"/>
<text x="227.50" y="335.70" font-size="7.5" font-weight="bold" textLength="46.10" lengthAdjust="spacingAndGlyphs" >0.1 U/mL Epo</text>
<line x1="220.30" y1="338.00" x2="275.10" y2="338.00" stroke="#000" stroke-width="1.2" />
<text x="295.30" y="360.80" font-size="7.2" textLength="19.30" lengthAdjust="spacingAndGlyphs" >Stop2</text>
<text x="295.30" y="386.10" font-size="7.2" textLength="19.30" lengthAdjust="spacingAndGlyphs" >Stop1</text>
<text x="302.50" y="409.80" font-size="7.2" textLength="11.50" lengthAdjust="spacingAndGlyphs" >WT</text>
<text x="270.20" y="430.90" font-size="7.2" textLength="43.80" lengthAdjust="spacingAndGlyphs" >Stop2+KYLYL</text>
<text x="189.70" y="444.30" font-size="8.6" textLength="17.30" lengthAdjust="spacingAndGlyphs" >Day1</text>
<text x="246.20" y="444.30" font-size="8.6" textLength="17.40" lengthAdjust="spacingAndGlyphs" >Day2</text>
<text x="303.40" y="444.30" font-size="8.6" textLength="18.70" lengthAdjust="spacingAndGlyphs" >Day3</text>
<text x="181.10" y="383.10" font-size="9.5" text-anchor="middle" transform="rotate(-90 181.10 383.10)" textLength="85.4" lengthAdjust="spacingAndGlyphs" style="stroke-width:0.1px">MTT Arbitrary Value</text>
<line x1="20.20" y1="472.60" x2="20.20" y2="568.10" stroke="#000" stroke-width="1.3" />
<line x1="19.60" y1="567.50" x2="137.70" y2="567.50" stroke="#000" stroke-width="1.3" />
<line x1="18.40" y1="567.50" x2="20.20" y2="567.50" stroke="#000" stroke-width="0.9" />
<text x="16.40" y="569.95" font-size="6.8" text-anchor="end" fill="#444" stroke="#444" textLength="3.20" lengthAdjust="spacingAndGlyphs" >0</text>
<line x1="18.40" y1="558.05" x2="20.20" y2="558.05" stroke="#000" stroke-width="0.9" />
<text x="17.90" y="560.50" font-size="6.8" text-anchor="end" fill="#444" stroke="#444" textLength="7.30" lengthAdjust="spacingAndGlyphs" >0.2</text>
<line x1="18.40" y1="548.60" x2="20.20" y2="548.60" stroke="#000" stroke-width="0.9" />
<text x="17.90" y="551.05" font-size="6.8" text-anchor="end" fill="#444" stroke="#444" textLength="7.30" lengthAdjust="spacingAndGlyphs" >0.4</text>
<line x1="18.40" y1="539.15" x2="20.20" y2="539.15" stroke="#000" stroke-width="0.9" />
<text x="17.90" y="541.60" font-size="6.8" text-anchor="end" fill="#444" stroke="#444" textLength="7.30" lengthAdjust="spacingAndGlyphs" >0.6</text>
<line x1="18.40" y1="529.70" x2="20.20" y2="529.70" stroke="#000" stroke-width="0.9" />
<text x="17.90" y="532.15" font-size="6.8" text-anchor="end" fill="#444" stroke="#444" textLength="7.30" lengthAdjust="spacingAndGlyphs" >0.8</text>
<line x1="18.40" y1="520.25" x2="20.20" y2="520.25" stroke="#000" stroke-width="0.9" />
<text x="16.40" y="522.70" font-size="6.8" text-anchor="end" fill="#444" stroke="#444" textLength="3.20" lengthAdjust="spacingAndGlyphs" >1</text>
<line x1="18.40" y1="510.80" x2="20.20" y2="510.80" stroke="#000" stroke-width="0.9" />
<text x="17.90" y="513.25" font-size="6.8" text-anchor="end" fill="#444" stroke="#444" textLength="7.30" lengthAdjust="spacingAndGlyphs" >1.2</text>
<line x1="18.40" y1="501.35" x2="20.20" y2="501.35" stroke="#000" stroke-width="0.9" />
<text x="17.90" y="503.80" font-size="6.8" text-anchor="end" fill="#444" stroke="#444" textLength="7.30" lengthAdjust="spacingAndGlyphs" >1.4</text>
<line x1="18.40" y1="491.90" x2="20.20" y2="491.90" stroke="#000" stroke-width="0.9" />
<text x="17.90" y="494.35" font-size="6.8" text-anchor="end" fill="#444" stroke="#444" textLength="7.30" lengthAdjust="spacingAndGlyphs" >1.6</text>
<line x1="18.40" y1="482.45" x2="20.20" y2="482.45" stroke="#000" stroke-width="0.9" />
<text x="17.90" y="484.90" font-size="6.8" text-anchor="end" fill="#444" stroke="#444" textLength="7.30" lengthAdjust="spacingAndGlyphs" >1.8</text>
<line x1="18.40" y1="473.00" x2="20.20" y2="473.00" stroke="#000" stroke-width="0.9" />
<text x="16.40" y="475.45" font-size="6.8" text-anchor="end" fill="#444" stroke="#444" textLength="3.20" lengthAdjust="spacingAndGlyphs" >2</text>
<polyline points="20.20,518.83 79.10,528.75 137.70,486.23" fill="none" stroke="#000" stroke-width="2.5" stroke-linejoin="round"/>
<path d="M20.20 515.93 L22.90 520.93 L17.50 520.93 Z" fill="#000"/>
<line x1="79.10" y1="525.15" x2="79.10" y2="532.36" stroke="#000" stroke-width="1.4" />
<path d="M79.10 525.86 L81.80 530.85 L76.40 530.85 Z" fill="#000"/>
<line x1="137.70" y1="482.63" x2="137.70" y2="489.83" stroke="#000" stroke-width="1.4" />
<path d="M137.70 483.33 L140.40 488.33 L135.00 488.33 Z" fill="#000"/>
<polyline points="20.20,518.83 79.10,528.75 137.70,499.93" fill="none" stroke="#000" stroke-width="2.5" stroke-linejoin="round"/>
<rect x="17.90" y="516.53" width="4.60" height="4.60" fill="#000" />
<line x1="79.10" y1="525.15" x2="79.10" y2="532.36" stroke="#000" stroke-width="1.4" />
<rect x="76.80" y="526.46" width="4.60" height="4.60" fill="#000" />
<line x1="137.70" y1="496.33" x2="137.70" y2="503.53" stroke="#000" stroke-width="1.4" />
<rect x="135.40" y="497.63" width="4.60" height="4.60" fill="#000" />
<polyline points="20.20,518.83 79.10,528.75 137.70,508.91" fill="none" stroke="#000" stroke-width="2.5" stroke-linejoin="round"/>
<path d="M20.20 515.73 L22.30 518.83 L20.20 521.93 L18.10 518.83 Z" fill="#000"/>
<line x1="79.10" y1="525.15" x2="79.10" y2="532.36" stroke="#000" stroke-width="1.4" />
<path d="M79.10 525.66 L81.20 528.75 L79.10 531.85 L77.00 528.75 Z" fill="#000"/>
<line x1="137.70" y1="505.31" x2="137.70" y2="512.51" stroke="#000" stroke-width="1.4" />
<path d="M137.70 505.81 L139.80 508.91 L137.70 512.01 L135.60 508.91 Z" fill="#000"/>
<polyline points="20.20,518.83 79.10,543.88 137.70,538.68" fill="none" stroke="#000" stroke-width="2.5" stroke-linejoin="round"/>
<path d="M17.90 516.53 L22.50 521.13 M22.50 516.53 L17.90 521.13" stroke="#000" stroke-width="1.3"/>
<line x1="79.10" y1="540.27" x2="79.10" y2="547.48" stroke="#000" stroke-width="1.4" />
<path d="M76.80 541.58 L81.40 546.17 M81.40 541.58 L76.80 546.17" stroke="#000" stroke-width="1.3"/>
<line x1="137.70" y1="535.08" x2="137.70" y2="542.28" stroke="#000" stroke-width="1.4" />
<path d="M135.40 536.38 L140.00 540.98 M140.00 536.38 L135.40 540.98" stroke="#000" stroke-width="1.3"/>
<text x="60.40" y="470.60" font-size="7.5" font-weight="bold" textLength="39.80" lengthAdjust="spacingAndGlyphs" >1 U/mL Epo</text>
<line x1="51.20" y1="472.90" x2="106.50" y2="472.90" stroke="#000" stroke-width="1.2" />
<text x="141.10" y="487.90" font-size="7.2" textLength="19.70" lengthAdjust="spacingAndGlyphs" >Stop2</text>
<text x="141.10" y="502.30" font-size="7.2" textLength="19.70" lengthAdjust="spacingAndGlyphs" >Stop1</text>
<text x="142.60" y="515.90" font-size="7.2" textLength="10.70" lengthAdjust="spacingAndGlyphs" >WT</text>
<text x="115.20" y="550.50" font-size="7.2" textLength="46.10" lengthAdjust="spacingAndGlyphs" >Stop2+KYLYL</text>
<text x="15.40" y="576.70" font-size="8.6" textLength="19.30" lengthAdjust="spacingAndGlyphs" >Day1</text>
<text x="69.60" y="576.70" font-size="8.6" textLength="19.60" lengthAdjust="spacingAndGlyphs" >Day2</text>
<text x="127.30" y="576.70" font-size="8.6" textLength="20.20" lengthAdjust="spacingAndGlyphs" >Day3</text>
<text x="8.00" y="519.90" font-size="9.5" text-anchor="middle" transform="rotate(-90 8.00 519.90)" textLength="85.7" lengthAdjust="spacingAndGlyphs" style="stroke-width:0.1px">MTT Arbitrary Value</text>
<line x1="194.20" y1="472.60" x2="194.20" y2="568.10" stroke="#000" stroke-width="1.3" />
<line x1="193.60" y1="567.50" x2="309.80" y2="567.50" stroke="#000" stroke-width="1.3" />
<line x1="192.40" y1="567.50" x2="194.20" y2="567.50" stroke="#000" stroke-width="0.9" />
<text x="190.40" y="569.95" font-size="6.8" text-anchor="end" fill="#444" stroke="#444" textLength="3.20" lengthAdjust="spacingAndGlyphs" >0</text>
<line x1="192.40" y1="558.05" x2="194.20" y2="558.05" stroke="#000" stroke-width="0.9" />
<text x="191.90" y="560.50" font-size="6.8" text-anchor="end" fill="#444" stroke="#444" textLength="7.30" lengthAdjust="spacingAndGlyphs" >0.2</text>
<line x1="192.40" y1="548.60" x2="194.20" y2="548.60" stroke="#000" stroke-width="0.9" />
<text x="191.90" y="551.05" font-size="6.8" text-anchor="end" fill="#444" stroke="#444" textLength="7.30" lengthAdjust="spacingAndGlyphs" >0.4</text>
<line x1="192.40" y1="539.15" x2="194.20" y2="539.15" stroke="#000" stroke-width="0.9" />
<text x="191.90" y="541.60" font-size="6.8" text-anchor="end" fill="#444" stroke="#444" textLength="7.30" lengthAdjust="spacingAndGlyphs" >0.6</text>
<line x1="192.40" y1="529.70" x2="194.20" y2="529.70" stroke="#000" stroke-width="0.9" />
<text x="191.90" y="532.15" font-size="6.8" text-anchor="end" fill="#444" stroke="#444" textLength="7.30" lengthAdjust="spacingAndGlyphs" >0.8</text>
<line x1="192.40" y1="520.25" x2="194.20" y2="520.25" stroke="#000" stroke-width="0.9" />
<text x="190.40" y="522.70" font-size="6.8" text-anchor="end" fill="#444" stroke="#444" textLength="3.20" lengthAdjust="spacingAndGlyphs" >1</text>
<line x1="192.40" y1="510.80" x2="194.20" y2="510.80" stroke="#000" stroke-width="0.9" />
<text x="191.90" y="513.25" font-size="6.8" text-anchor="end" fill="#444" stroke="#444" textLength="7.30" lengthAdjust="spacingAndGlyphs" >1.2</text>
<line x1="192.40" y1="501.35" x2="194.20" y2="501.35" stroke="#000" stroke-width="0.9" />
<text x="191.90" y="503.80" font-size="6.8" text-anchor="end" fill="#444" stroke="#444" textLength="7.30" lengthAdjust="spacingAndGlyphs" >1.4</text>
<line x1="192.40" y1="491.90" x2="194.20" y2="491.90" stroke="#000" stroke-width="0.9" />
<text x="191.90" y="494.35" font-size="6.8" text-anchor="end" fill="#444" stroke="#444" textLength="7.30" lengthAdjust="spacingAndGlyphs" >1.6</text>
<line x1="192.40" y1="482.45" x2="194.20" y2="482.45" stroke="#000" stroke-width="0.9" />
<text x="191.90" y="484.90" font-size="6.8" text-anchor="end" fill="#444" stroke="#444" textLength="7.30" lengthAdjust="spacingAndGlyphs" >1.8</text>
<line x1="192.40" y1="473.00" x2="194.20" y2="473.00" stroke="#000" stroke-width="0.9" />
<text x="190.40" y="475.45" font-size="6.8" text-anchor="end" fill="#444" stroke="#444" textLength="3.20" lengthAdjust="spacingAndGlyphs" >2</text>
<polyline points="194.20,520.25 252.60,490.48 309.80,476.78" fill="none" stroke="#000" stroke-width="2.5" stroke-linejoin="round"/>
<path d="M191.90 517.95 L196.50 522.55 M196.50 517.95 L191.90 522.55" stroke="#000" stroke-width="1.3"/>
<line x1="252.60" y1="486.88" x2="252.60" y2="494.08" stroke="#000" stroke-width="1.4" />
<path d="M250.30 488.18 L254.90 492.78 M254.90 488.18 L250.30 492.78" stroke="#000" stroke-width="1.3"/>
<line x1="309.80" y1="473.18" x2="309.80" y2="480.38" stroke="#000" stroke-width="1.4" />
<path d="M307.50 474.48 L312.10 479.08 M312.10 474.48 L307.50 479.08" stroke="#000" stroke-width="1.3"/>
<polyline points="194.20,520.25 252.60,493.32 309.80,480.56" fill="none" stroke="#000" stroke-width="2.5" stroke-linejoin="round"/>
<rect x="191.90" y="517.95" width="4.60" height="4.60" fill="#000" />
<line x1="252.60" y1="489.72" x2="252.60" y2="496.92" stroke="#000" stroke-width="1.4" />
<rect x="250.30" y="491.02" width="4.60" height="4.60" fill="#000" />
<line x1="309.80" y1="476.96" x2="309.80" y2="484.16" stroke="#000" stroke-width="1.4" />
<rect x="307.50" y="478.26" width="4.60" height="4.60" fill="#000" />
<polyline points="194.20,520.25 252.60,495.68 309.80,486.70" fill="none" stroke="#000" stroke-width="2.5" stroke-linejoin="round"/>
<path d="M194.20 517.15 L196.30 520.25 L194.20 523.35 L192.10 520.25 Z" fill="#000"/>
<line x1="252.60" y1="492.08" x2="252.60" y2="499.28" stroke="#000" stroke-width="1.4" />
<path d="M252.60 492.58 L254.70 495.68 L252.60 498.78 L250.50 495.68 Z" fill="#000"/>
<line x1="309.80" y1="483.10" x2="309.80" y2="490.30" stroke="#000" stroke-width="1.4" />
<path d="M309.80 483.60 L311.90 486.70 L309.80 489.80 L307.70 486.70 Z" fill="#000"/>
<polyline points="194.20,520.25 252.60,505.13 309.80,496.15" fill="none" stroke="#000" stroke-width="2.5" stroke-linejoin="round"/>
<path d="M194.20 517.35 L196.90 522.35 L191.50 522.35 Z" fill="#000"/>
<line x1="252.60" y1="501.53" x2="252.60" y2="508.73" stroke="#000" stroke-width="1.4" />
<path d="M252.60 502.23 L255.30 507.23 L249.90 507.23 Z" fill="#000"/>
<line x1="309.80" y1="492.55" x2="309.80" y2="499.75" stroke="#000" stroke-width="1.4" />
<path d="M309.80 493.25 L312.50 498.25 L307.10 498.25 Z" fill="#000"/>
<text x="240.70" y="471.00" font-size="7.5" font-weight="bold" textLength="19.30" lengthAdjust="spacingAndGlyphs" >WEHI</text>
<line x1="219.80" y1="472.30" x2="276.40" y2="472.30" stroke="#000" stroke-width="1.2" />
<text x="288.80" y="471.80" font-size="7.2" textLength="43.60" lengthAdjust="spacingAndGlyphs" >Stop2+KYLYL</text>
<text x="315.20" y="480.40" font-size="7.2" textLength="17.80" lengthAdjust="spacingAndGlyphs" >Stop1</text>
<text x="322.60" y="489.00" font-size="7.2" textLength="9.90" lengthAdjust="spacingAndGlyphs" >WT</text>
<text x="315.20" y="499.20" font-size="7.2" textLength="17.80" lengthAdjust="spacingAndGlyphs" >Stop2</text>
<text x="189.20" y="577.30" font-size="8.6" textLength="19.80" lengthAdjust="spacingAndGlyphs" >Day1</text>
<text x="244.50" y="577.30" font-size="8.6" textLength="20.00" lengthAdjust="spacingAndGlyphs" >Day2</text>
<text x="303.30" y="577.30" font-size="8.6" textLength="19.30" lengthAdjust="spacingAndGlyphs" >Day3</text>
<text x="180.70" y="521.50" font-size="9.5" text-anchor="middle" transform="rotate(-90 180.70 521.50)" textLength="84.6" lengthAdjust="spacingAndGlyphs" style="stroke-width:0.1px">MTT Arbitrary Value</text>
<text x="344.00" y="335.70" font-size="11.0" font-weight="bold" textLength="6.40" lengthAdjust="spacingAndGlyphs" >F</text>
<line x1="374.00" y1="328.30" x2="374.00" y2="453.20" stroke="#000" stroke-width="1.3" />
<line x1="373.40" y1="452.60" x2="520.00" y2="452.60" stroke="#000" stroke-width="1.3" />
<line x1="371.80" y1="452.50" x2="373.70" y2="452.50" stroke="#000" stroke-width="0.9" />
<text x="366.30" y="452.10" font-size="6.4" text-anchor="end" fill="#444" stroke="#444" >0</text>
<line x1="371.80" y1="427.77" x2="373.70" y2="427.77" stroke="#000" stroke-width="0.9" />
<text x="369.60" y="429.97" font-size="6.4" text-anchor="end" fill="#444" stroke="#444" >0.05</text>
<line x1="371.80" y1="403.05" x2="373.70" y2="403.05" stroke="#000" stroke-width="0.9" />
<text x="369.60" y="405.25" font-size="6.4" text-anchor="end" fill="#444" stroke="#444" >0.10</text>
<line x1="371.80" y1="378.32" x2="373.70" y2="378.32" stroke="#000" stroke-width="0.9" />
<text x="369.60" y="380.52" font-size="6.4" text-anchor="end" fill="#444" stroke="#444" >0.15</text>
<line x1="371.80" y1="353.60" x2="373.70" y2="353.60" stroke="#000" stroke-width="0.9" />
<text x="369.60" y="355.80" font-size="6.4" text-anchor="end" fill="#444" stroke="#444" >0.20</text>
<line x1="371.80" y1="328.88" x2="373.70" y2="328.88" stroke="#000" stroke-width="0.9" />
<text x="369.60" y="331.07" font-size="6.4" text-anchor="end" fill="#444" stroke="#444" >0.25</text>
<text x="351.20" y="384.80" font-size="9.5" text-anchor="middle" transform="rotate(-90 351.20 384.80)" textLength="84.7" lengthAdjust="spacingAndGlyphs" style="stroke-width:0.1px">MTT Arbitrary Value</text>
<line x1="383.67" y1="443.10" x2="383.67" y2="441.13" stroke="#000" stroke-width="1" />
<line x1="382.27" y1="441.13" x2="385.07" y2="441.13" stroke="#000" stroke-width="1" />
<line x1="392.23" y1="441.13" x2="392.23" y2="440.14" stroke="#000" stroke-width="1" />
<line x1="390.83" y1="440.14" x2="393.62" y2="440.14" stroke="#000" stroke-width="1" />
<line x1="400.77" y1="442.12" x2="400.77" y2="441.13" stroke="#000" stroke-width="1" />
<line x1="399.38" y1="441.13" x2="402.17" y2="441.13" stroke="#000" stroke-width="1" />
<rect x="379.90" y="443.60" width="7.55" height="8.90" fill="#fff" stroke="#000" stroke-width="1" />
<rect x="388.45" y="441.63" width="7.55" height="10.87" fill="#222" stroke="#000" stroke-width="1" />
<rect x="397.00" y="442.62" width="7.55" height="9.88" fill="#8a8a8a" stroke="#000" stroke-width="1" />
<line x1="420.08" y1="440.63" x2="420.08" y2="438.16" stroke="#000" stroke-width="1" />
<line x1="418.68" y1="438.16" x2="421.48" y2="438.16" stroke="#000" stroke-width="1" />
<line x1="428.62" y1="422.83" x2="428.62" y2="421.84" stroke="#000" stroke-width="1" />
<line x1="427.23" y1="421.84" x2="430.02" y2="421.84" stroke="#000" stroke-width="1" />
<line x1="437.18" y1="440.14" x2="437.18" y2="439.15" stroke="#000" stroke-width="1" />
<line x1="435.78" y1="439.15" x2="438.58" y2="439.15" stroke="#000" stroke-width="1" />
<rect x="416.30" y="441.13" width="7.55" height="11.37" fill="#fff" stroke="#000" stroke-width="1" />
<rect x="424.85" y="423.33" width="7.55" height="29.17" fill="#222" stroke="#000" stroke-width="1" />
<rect x="433.40" y="440.64" width="7.55" height="11.86" fill="#8a8a8a" stroke="#000" stroke-width="1" />
<line x1="456.67" y1="423.32" x2="456.67" y2="420.85" stroke="#000" stroke-width="1" />
<line x1="455.27" y1="420.85" x2="458.07" y2="420.85" stroke="#000" stroke-width="1" />
<line x1="465.23" y1="402.56" x2="465.23" y2="400.08" stroke="#000" stroke-width="1" />
<line x1="463.83" y1="400.08" x2="466.62" y2="400.08" stroke="#000" stroke-width="1" />
<line x1="473.77" y1="423.32" x2="473.77" y2="421.35" stroke="#000" stroke-width="1" />
<line x1="472.38" y1="421.35" x2="475.17" y2="421.35" stroke="#000" stroke-width="1" />
<rect x="452.90" y="423.82" width="7.55" height="28.68" fill="#fff" stroke="#000" stroke-width="1" />
<rect x="461.45" y="403.06" width="7.55" height="49.44" fill="#222" stroke="#000" stroke-width="1" />
<rect x="470.00" y="423.82" width="7.55" height="28.68" fill="#8a8a8a" stroke="#000" stroke-width="1" />
<line x1="493.38" y1="387.23" x2="493.38" y2="386.24" stroke="#000" stroke-width="1" />
<line x1="491.98" y1="386.24" x2="494.77" y2="386.24" stroke="#000" stroke-width="1" />
<line x1="501.93" y1="352.12" x2="501.93" y2="351.13" stroke="#000" stroke-width="1" />
<line x1="500.53" y1="351.13" x2="503.33" y2="351.13" stroke="#000" stroke-width="1" />
<line x1="510.48" y1="402.56" x2="510.48" y2="398.11" stroke="#000" stroke-width="1" />
<line x1="509.08" y1="398.11" x2="511.88" y2="398.11" stroke="#000" stroke-width="1" />
<rect x="489.60" y="387.73" width="7.55" height="64.77" fill="#fff" stroke="#000" stroke-width="1" />
<rect x="498.15" y="352.62" width="7.55" height="99.88" fill="#222" stroke="#000" stroke-width="1" />
<rect x="506.70" y="403.06" width="7.55" height="49.44" fill="#8a8a8a" stroke="#000" stroke-width="1" />
<rect x="384.30" y="337.40" width="6.80" height="7.20" fill="#fff" stroke="#000" stroke-width="1" />
<text x="395.40" y="343.70" font-size="9.3" font-weight="bold" textLength="16.90" lengthAdjust="spacingAndGlyphs" >W.T.</text>
<rect x="384.30" y="347.70" width="6.80" height="7.20" fill="#222" stroke="#000" stroke-width="1" />
<text x="395.40" y="354.20" font-size="9.3" font-weight="bold" textLength="26.10" lengthAdjust="spacingAndGlyphs" >Stop2</text>
<rect x="384.30" y="357.90" width="6.80" height="7.30" fill="#8a8a8a" stroke="#000" stroke-width="1" />
<text x="395.40" y="364.30" font-size="9.3" font-weight="bold" textLength="61.50" lengthAdjust="spacingAndGlyphs" >Stop2+KYLYL</text>
<text x="360.80" y="465.40" font-size="8.8" font-weight="bold" textLength="15.90" lengthAdjust="spacingAndGlyphs" >Epo</text>
<text x="358.20" y="473.30" font-size="8.8" font-weight="bold" textLength="28.20" lengthAdjust="spacingAndGlyphs" >(U/mL)</text>
<text x="387.10" y="466.40" font-size="8.8" font-weight="bold" textLength="4.80" lengthAdjust="spacingAndGlyphs" >0</text>
<text x="418.50" y="466.40" font-size="8.8" font-weight="bold" textLength="17.90" lengthAdjust="spacingAndGlyphs" >0.01</text>
<text x="455.50" y="466.40" font-size="8.8" font-weight="bold" textLength="12.00" lengthAdjust="spacingAndGlyphs" >0.1</text>
<text x="497.80" y="466.40" font-size="8.8" font-weight="bold" textLength="3.60" lengthAdjust="spacingAndGlyphs" >1</text>
<line x1="403.10" y1="500.00" x2="403.10" y2="571.00" stroke="#000" stroke-width="1.3" />
<line x1="402.50" y1="570.40" x2="460.50" y2="570.40" stroke="#000" stroke-width="1.3" />
<line x1="401.20" y1="570.40" x2="403.10" y2="570.40" stroke="#000" stroke-width="0.9" />
<text x="398.00" y="573.40" font-size="6.6" text-anchor="end" fill="#444" stroke="#444" >0</text>
<line x1="401.20" y1="560.20" x2="403.10" y2="560.20" stroke="#000" stroke-width="0.9" />
<text x="400.00" y="562.50" font-size="6.6" text-anchor="end" fill="#444" stroke="#444" >0.2</text>
<line x1="401.20" y1="547.70" x2="403.10" y2="547.70" stroke="#000" stroke-width="0.9" />
<text x="400.00" y="550.00" font-size="6.6" text-anchor="end" fill="#444" stroke="#444" >0.4</text>
<line x1="401.20" y1="534.70" x2="403.10" y2="534.70" stroke="#000" stroke-width="0.9" />
<text x="400.00" y="537.00" font-size="6.6" text-anchor="end" fill="#444" stroke="#444" >0.6</text>
<line x1="401.20" y1="523.30" x2="403.10" y2="523.30" stroke="#000" stroke-width="0.9" />
<text x="400.00" y="525.60" font-size="6.6" text-anchor="end" fill="#444" stroke="#444" >0.8</text>
<line x1="401.20" y1="510.90" x2="403.10" y2="510.90" stroke="#000" stroke-width="0.9" />
<text x="400.00" y="513.20" font-size="6.6" text-anchor="end" fill="#444" stroke="#444" >1.0</text>
<line x1="401.20" y1="500.80" x2="403.10" y2="500.80" stroke="#000" stroke-width="0.9" />
<text x="400.00" y="503.10" font-size="6.6" text-anchor="end" fill="#444" stroke="#444" >1.2</text>
<text x="386.90" y="531.20" font-size="9.5" text-anchor="middle" transform="rotate(-90 386.90 531.20)" textLength="85" lengthAdjust="spacingAndGlyphs" style="stroke-width:0.1px">MTT Arbitrary Value</text>
<line x1="417.75" y1="510.00" x2="417.75" y2="509.20" stroke="#000" stroke-width="1" />
<line x1="416.35" y1="509.20" x2="419.15" y2="509.20" stroke="#000" stroke-width="1" />
<rect x="413.00" y="510.50" width="9.50" height="59.90" fill="#fff" stroke="#000" stroke-width="1" />
<line x1="428.95" y1="510.60" x2="428.95" y2="509.80" stroke="#000" stroke-width="1" />
<line x1="427.55" y1="509.80" x2="430.35" y2="509.80" stroke="#000" stroke-width="1" />
<rect x="423.50" y="511.10" width="10.90" height="59.30" fill="#000" stroke="#000" stroke-width="1" />
<line x1="440.55" y1="511.00" x2="440.55" y2="510.20" stroke="#000" stroke-width="1" />
<line x1="439.15" y1="510.20" x2="441.95" y2="510.20" stroke="#000" stroke-width="1" />
<rect x="435.40" y="511.50" width="10.30" height="58.90" fill="#8a8a8a" stroke="#000" stroke-width="1" />
<rect x="416.80" y="485.30" width="5.30" height="5.80" fill="#fff" stroke="#000" stroke-width="1" />
<text x="425.50" y="491.20" font-size="8.7" font-weight="bold" textLength="16.00" lengthAdjust="spacingAndGlyphs" >W.T.</text>
<rect x="446.80" y="485.30" width="5.50" height="5.80" fill="#222" stroke="#000" stroke-width="1" />
<text x="455.50" y="491.20" font-size="8.7" font-weight="bold" textLength="24.30" lengthAdjust="spacingAndGlyphs" >Stop2</text>
<rect x="416.80" y="495.80" width="5.30" height="5.80" fill="#8a8a8a" stroke="#000" stroke-width="1" />
<text x="425.20" y="501.90" font-size="8.7" font-weight="bold" textLength="57.80" lengthAdjust="spacingAndGlyphs" >Stop2+KYLYL</text>
<text x="410.20" y="581.20" font-size="8.8" font-weight="bold" textLength="44.60" lengthAdjust="spacingAndGlyphs" >Epo media</text>
</svg>
</body></html>
